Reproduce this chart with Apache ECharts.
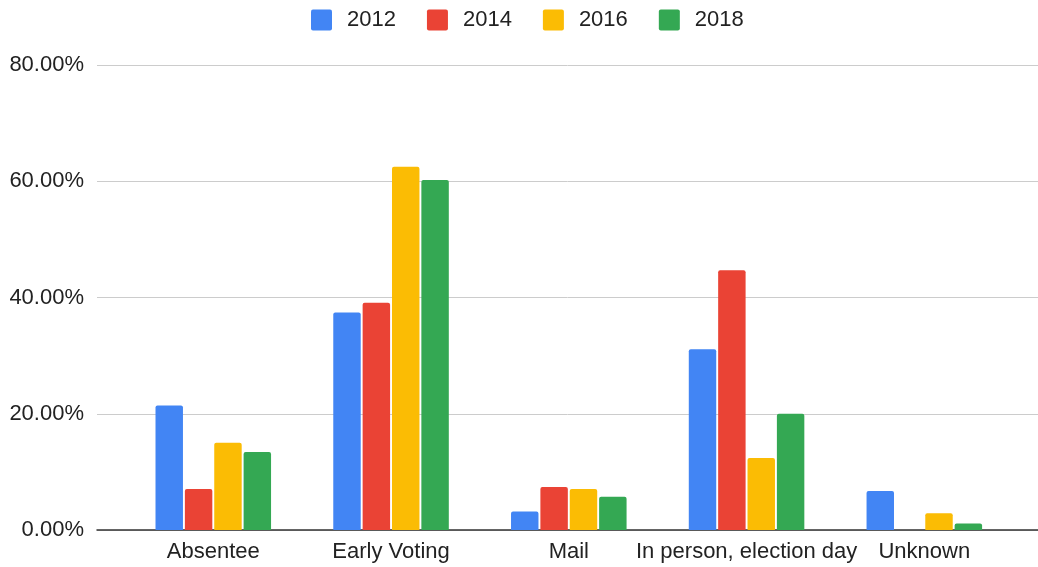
<!DOCTYPE html>
<html>
<head>
<meta charset="utf-8">
<script src="https://cdn.jsdelivr.net/npm/echarts@6/dist/echarts.min.js"></script>
<style>html,body{margin:0;padding:0;background:#fff;}#c{width:1038px;height:567px;}</style>
</head>
<body>
<div id="c"></div>
<script>
const categories = ['Absentee', 'Early Voting', 'Mail', 'In person, election day', 'Unknown'];
const seriesNames = ['2012', '2014', '2016', '2018'];
const v2012 = [21.4, 37.4, 3.2, 31.1, 6.7];
const v2014 = [7.05, 39.1, 7.4, 44.7, 0];
const v2016 = [15.0, 62.5, 7.05, 12.4, 2.9];
const v2018 = [13.4, 60.2, 5.7, 20.0, 1.1];
const yTicks = [0, 20, 40, 60, 80];
const colors = ['#4285F4', '#EA4335', '#FBBC04', '#34A853'];

const values = [v2012, v2014, v2016, v2018];
const font = 'Arial, "Liberation Sans", sans-serif';
const chart = echarts.init(document.getElementById('c'));
chart.setOption({
  animation: false,
  color: colors,
  legend: {
    left: 306, top: 4,
    itemWidth: 21, itemHeight: 21, itemGap: 31,
    icon: 'path://M2,0H19Q21,0 21,2V19Q21,21 19,21H2Q0,21 0,19V2Q0,0 2,0Z',
    data: seriesNames,
    textStyle: { fontFamily: font, fontSize: 22, color: '#222', padding: [0, 0, 0, 10] }
  },
  grid: [
    { left: 97, right: 0, top: 65, bottom: 37 },
    { left: 124.4, right: 24.8, top: 65, bottom: 37 }
  ],
  xAxis: [
    { gridIndex: 0, type: 'category', data: [''], axisLine: { show: true, lineStyle: { color: '#333', width: 1.5 } },
      axisTick: { show: false }, axisLabel: { show: false }, splitLine: { show: false } },
    { gridIndex: 1, type: 'category', data: categories, axisLine: { show: false }, axisTick: { show: false },
      axisLabel: { fontFamily: font, fontSize: 22, color: '#222', margin: 11, interval: 0 } }
  ],
  yAxis: [
    { gridIndex: 0, type: 'value', min: yTicks[0], max: yTicks[yTicks.length - 1], interval: 20,
      axisLine: { show: false }, axisTick: { show: false },
      axisLabel: { fontFamily: font, fontSize: 22, color: '#222', margin: 13, padding: [4, 0, 0, 0],
        formatter: v => v.toFixed(2) + '%' },
      splitLine: { lineStyle: { color: '#cccccc', width: 1 } } },
    { gridIndex: 1, type: 'value', min: yTicks[0], max: yTicks[yTicks.length - 1], interval: 20, show: false,
      splitLine: { show: false } }
  ],
  series: seriesNames.map((n, i) => ({
    name: n, type: 'bar', xAxisIndex: 1, yAxisIndex: 1,
    data: values[i],
    barGap: '7%', barCategoryGap: '35%',
    itemStyle: { color: colors[i], borderRadius: [2, 2, 0, 0] }
  }))
});
</script>
</body>
</html>
